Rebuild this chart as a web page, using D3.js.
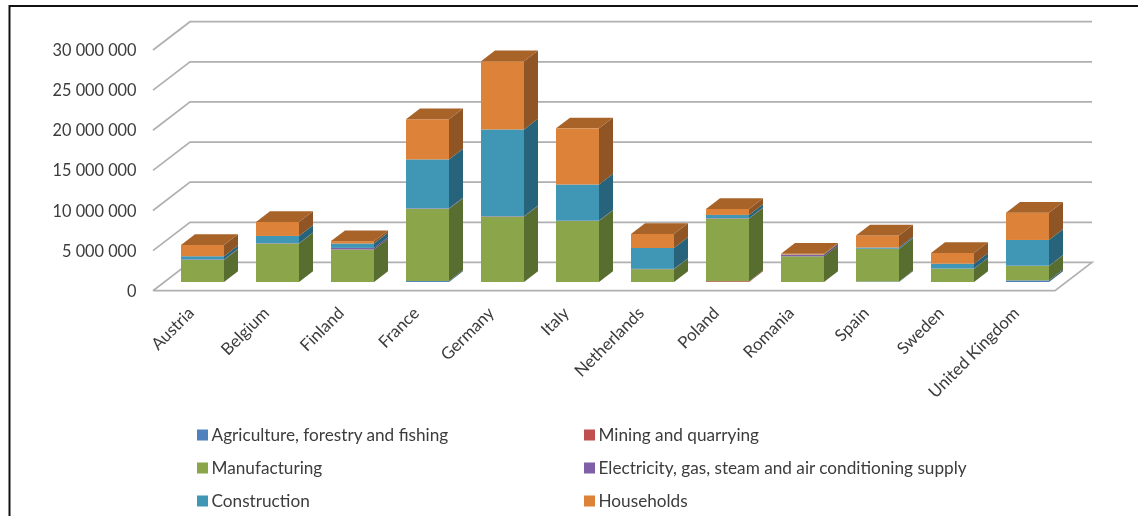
<!DOCTYPE html>
<html><head><meta charset="utf-8">
<style>html,body{margin:0;padding:0;background:#fff}svg{display:block}text{font-family:Lato,"Open Sans",sans-serif}</style>
<script src="https://cdn.jsdelivr.net/npm/d3@7"></script></head><body>
<script>
const countries = ["Austria","Belgium","Finland","France","Germany","Italy","Netherlands","Poland","Romania","Spain","Sweden","United Kingdom"];
const seriesNames = ["Agriculture, forestry and fishing","Mining and quarrying","Manufacturing","Electricity, gas, steam and air conditioning supply","Construction","Households"];
const agriculture = [0,0,0,120000,0,0,0,0,0,60000,0,200000];
const mining = [0,0,0,0,0,0,0,100000,0,0,0,0];
const manufacturing = [2750000,4800000,4050000,9000000,8150000,7600000,1600000,7800000,3200000,4050000,1650000,1800000];
const electricity = [60000,40000,200000,60000,60000,50000,40000,60000,200000,40000,30000,40000];
const construction = [400000,900000,550000,6100000,10800000,4500000,2600000,400000,20000,150000,600000,3200000];
const households = [1400000,1750000,300000,5000000,8500000,7000000,1750000,750000,100000,1500000,1350000,3400000];
const tickValues = [0,5000000,10000000,15000000,20000000,25000000,30000000];
const colors = ["#4f81bd","#c0504d","#8aa54a","#7f5fa6","#3f97b5","#dd8339"];
const sideColors = ["#3b6391","#8f3b39","#586d30","#5c4479","#27637b","#8f5524"];
const topColors = ["#3b6391","#8f3b39","#6d853a","#5c4479","#2f7d96","#a86329"];
const valueRows = [agriculture,mining,manufacturing,electricity,construction,households];

const W=1138,H=516;
const floorLeft=153, floorRight=1055, frontY=290.7, depthX=37, depthY=-28.3;
const svg=d3.select("body").append("svg").attr("width",W).attr("height",H);
const root=svg.append("g").style("filter","blur(0.4px)");

// frame: top and left edges only, running off the picture
root.append("path").attr("d",`M9.5,${H+4} V6 H${W+4}`).attr("fill","none").attr("stroke","#111").attr("stroke-width",2);

const yFront=d3.scaleLinear().domain([0,30000000]).range([frontY,50]);
const yHeight=d3.scaleLinear().domain([0,30000000]).range([0,240.7]);
const barBand=d3.scaleBand().domain(countries).range([165,1065]).padding(0);

// walls: gridlines
const grid=root.append("g");
tickValues.forEach(t=>{
  const y=yFront(t);
  const pts=t===0
   ? [[floorLeft,y],[floorLeft+depthX,y+depthY],[floorRight+depthX,y+depthY],[floorRight,y],[floorLeft,y]]
   : [[floorLeft,y],[floorLeft+depthX,y+depthY],[floorRight+depthX,y+depthY]];
  grid.append("path").attr("d",d3.line()(pts)).attr("fill","none").attr("stroke","#b0b0b0").attr("stroke-width",1.7);
});

// y axis labels
const axis=d3.axisLeft(yFront).tickValues(tickValues).tickSize(0).tickPadding(0)
  .tickFormat(d=>d3.format(",")(d).replace(/,/g," "));
const axisG=root.append("g").attr("transform","translate(136.5,0)").call(axis);
axisG.select(".domain").remove();
axisG.selectAll("text").attr("font-size",16.3).attr("fill","#3c3c3c").style("font-family","Lato").attr("dy","0.34em");

// bars
const barW=43, dx=14, dy=-10.7, baseY=282;
const stackData=d3.stack().keys(d3.range(6)).value((d,k)=>valueRows[k][d])(d3.range(countries.length));
const bars=root.append("g");
countries.forEach((c,i)=>{
  const bx=barBand(c)+(barBand.bandwidth()-barW)/2;
  const g=bars.append("g");
  let topMost=null;
  stackData.forEach((layer,k)=>{
    const [v0,v1]=layer[i];
    if(v1<=v0) return;
    const y0=baseY-yHeight(v0), y1=baseY-yHeight(v1);
    g.append("rect").attr("x",bx).attr("y",y1).attr("width",barW).attr("height",y0-y1).attr("fill",colors[k]);
    g.append("path").attr("d",d3.line()([[bx+barW,y0],[bx+barW+dx,y0+dy],[bx+barW+dx,y1+dy],[bx+barW,y1]])).attr("fill",sideColors[k]);
    topMost={k,y1};
  });
  g.append("path").attr("d",d3.line()([[bx,topMost.y1],[bx+dx,topMost.y1+dy],[bx+barW+dx,topMost.y1+dy],[bx+barW,topMost.y1]])).attr("fill",topColors[topMost.k]);
  // category label
  root.append("text").attr("transform",`translate(${bx+10},310) rotate(-45)`).attr("text-anchor","end")
    .attr("font-size",16.8).attr("fill","#3c3c3c").attr("dy","0.35em").text(c);
});

// legend
const legX=d3.scaleOrdinal().domain([0,1]).range([197,584]);
const legY=d3.scaleOrdinal().domain([0,1,2]).range([435,468,501]);
seriesNames.forEach((n,i)=>{
  const col=i%2,row=Math.floor(i/2);
  root.append("rect").attr("x",legX(col)).attr("y",legY(row)-5.5).attr("width",11).attr("height",11).attr("fill",colors[i]);
  root.append("text").attr("x",legX(col)+14.5).attr("y",legY(row)).attr("dy","0.35em").attr("font-size",17.2).attr("fill","#3c3c3c").text(n);
});
</script></body></html>
